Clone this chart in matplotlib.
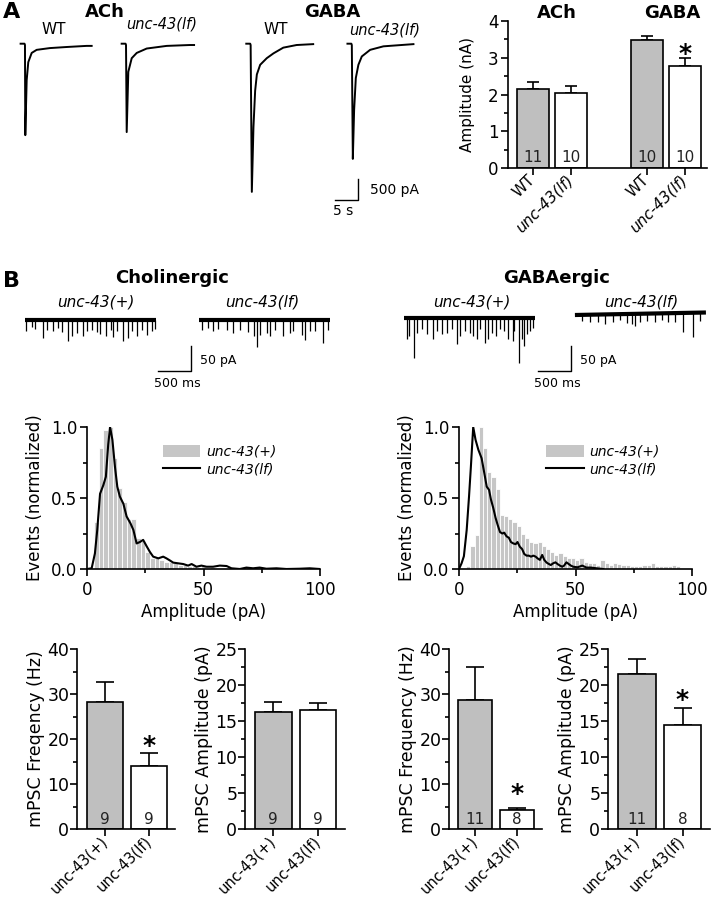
import matplotlib.pyplot as plt
from matplotlib.patches import Patch
from matplotlib.lines import Line2D
import numpy as np

plt.rcParams['font.family'] = ['DejaVu Sans']
plt.rcParams['axes.linewidth'] = 1.2

# ---------------- data ----------------
# A: evoked currents (time in s from stimulus, current in nA)
ach_wt_t = [-0.95, -0.1, 0.0, 0.07, 0.37, 0.72, 1.46, 2.54, 5.4, 9.1, 13.4, 14.5]
ach_wt_i = [0.03, 0.03, 0.0, -2.05, -0.80, -0.39, -0.18, -0.11, -0.07, -0.045, -0.02, -0.02]
ach_lf_t = [-0.95, -0.1, 0.0, 0.15, 0.5, 1.24, 2.33, 4.5, 8.85, 13.9, 14.8]
ach_lf_i = [0.03, 0.03, 0.0, -1.98, -0.61, -0.30, -0.18, -0.08, -0.02, 0.0, 0.0]
gaba_wt_t = [-0.95, -0.1, 0.0, 0.26, 0.61, 0.98, 1.35, 2.07, 3.5, 4.96, 7.1, 10.0, 13.6]
gaba_wt_i = [0.03, 0.03, 0.0, -3.34, -1.87, -1.04, -0.67, -0.45, -0.30, -0.19, -0.06, 0.0, 0.02]
gaba_lf_t = [-0.95, -0.1, 0.0, 0.22, 0.5, 0.87, 1.43, 2.17, 3.98, 6.87, 13.4]
gaba_lf_i = [0.03, 0.03, 0.0, -2.59, -1.48, -0.75, -0.45, -0.26, -0.11, -0.03, 0.02]

# A: evoked amplitude summary
evoked_labels = ['WT', 'unc-43(lf)', 'WT', 'unc-43(lf)']
evoked_mean = [2.15, 2.05, 3.48, 2.77]
evoked_sem = [0.18, 0.17, 0.12, 0.23]
evoked_n = [11, 10, 10, 10]

# B: mPSC events (time in ms from trace start, amplitude in pA)
ach_wt_ev_t = [15, 101, 151, 268, 328, 429, 505, 556, 656, 707, 793, 884, 944, 1010,
               1086, 1136, 1227, 1298, 1338, 1399, 1490, 1565, 1616, 1702, 1768,
               1843, 1919, 1970]
ach_wt_ev_a = [23, 15, 19, 37, 20, 23, 17, 25, 43, 33, 27, 32, 23, 20,
               25, 28, 33, 20, 35, 23, 43, 37, 23, 33, 20, 30, 23, 19]
ach_lf_ev_t = [40, 141, 217, 293, 419, 520, 621, 747, 833, 874, 924, 1025, 1076,
               1151, 1278, 1379, 1429, 1555, 1606, 1682, 1757, 1874, 1959]
ach_lf_ev_a = [20, 17, 23, 19, 20, 27, 21, 25, 33, 55, 30, 27, 33,
               20, 33, 27, 23, 30, 40, 23, 23, 47, 20]
gaba_wt_ev_t = [40, 81, 157, 192, 268, 343, 444, 505, 571, 646, 722, 798, 848, 924,
                1000, 1050, 1101, 1151, 1227, 1278, 1328, 1394, 1454, 1515, 1581,
                1646, 1667, 1747, 1783, 1818, 1858, 1909, 1949]
gaba_wt_ev_a = [43, 37, 80, 30, 23, 33, 43, 27, 33, 30, 23, 53, 37, 27,
                30, 37, 43, 23, 50, 43, 30, 37, 23, 27, 43, 47, 27, 90, 43, 57,
                33, 27, 20]
gaba_lf_ev_t = [101, 227, 353, 455, 581, 682, 783, 859, 909, 985, 1086, 1212,
                1313, 1414, 1515, 1641, 1793, 1894]
gaba_lf_ev_a = [12, 15, 14, 19, 16, 12, 17, 21, 24, 16, 15, 17, 14, 18, 17, 39, 49, 16]

# B: amplitude histograms (normalized)
ach_hist_start, ach_hist_bin = 4.0, 2.0
ach_hist = [0.33, 0.85, 0.98, 1.0, 0.78, 0.57, 0.47, 0.35, 0.35, 0.22, 0.2, 0.12, 0.08,
            0.08, 0.06, 0.05, 0.05, 0.04, 0.03, 0.03, 0.02, 0.02, 0.015, 0.02, 0.01,
            0.015, 0.01, 0.01, 0.008, 0.005, 0.005, 0.01, 0.005, 0.008, 0.005, 0.01,
            0.005, 0.005, 0.005, 0.008, 0.005, 0.005, 0.005, 0.005, 0.005, 0.005, 0.008]
ach_lf_x = [0, 2.0, 3.4, 4.4, 5.6, 7.0, 8.1, 9.1, 9.9, 10.9, 12.0, 13.0, 14.1, 15.6,
            17.0, 18.7, 19.9, 21.3, 22.7, 24.1, 25.6, 27.0, 28.4, 30.6, 32.7, 34.1,
            35.6, 37.0, 39.1, 41.3, 43.4, 44.9, 47.0, 49.1, 51.3, 54.1, 57.0, 59.9,
            62.0, 65.6, 68.4, 71.3, 74.1, 77.0, 81.3, 85.6, 91.3, 95.6, 99.9]
ach_lf_y = [0, 0.005, 0.11, 0.275, 0.53, 0.59, 0.65, 0.875, 1.0, 0.91, 0.72, 0.58, 0.51,
            0.46, 0.37, 0.32, 0.275, 0.18, 0.19, 0.205, 0.16, 0.12, 0.087, 0.075, 0.087,
            0.075, 0.06, 0.045, 0.04, 0.035, 0.024, 0.035, 0.016, 0.024, 0.016, 0.016,
            0.024, 0.021, 0.005, 0, 0.01, 0.005, 0.01, 0.002, 0.005, 0, 0.002, 0.005, 0]
gaba_hist_start, gaba_hist_bin = 4.0, 1.8
gaba_hist = [0.02, 0.16, 0.24, 1.0, 0.85, 0.68, 0.65, 0.56, 0.38, 0.37, 0.35, 0.33, 0.30,
             0.25, 0.22, 0.19, 0.18, 0.19, 0.16, 0.14, 0.12, 0.10, 0.11, 0.09, 0.08,
             0.08, 0.06, 0.08, 0.05, 0.04, 0.04, 0.03, 0.06, 0.04, 0.03, 0.04, 0.035,
             0.03, 0.03, 0.02, 0.02, 0.02, 0.03, 0.03, 0.04, 0.02, 0.02, 0.02, 0.02,
             0.03, 0.02]
gaba_lf_x = [0, 1.1, 2.1, 3.3, 4.3, 5.1, 6.1, 7.1, 8.3, 9.7, 10.7, 11.9, 12.9, 13.7,
             14.7, 15.7, 16.6, 17.6, 18.6, 19.4, 20.4, 21.4, 22.3, 23.3, 24.3, 25.1,
             26.1, 27.1, 28.0, 29.0, 30.0, 30.9, 31.9, 32.9, 33.7, 34.7, 35.7, 36.6,
             37.6, 38.6, 39.4, 40.4, 41.4, 42.3, 43.3, 44.3, 45.1, 46.1, 47.1, 48.0,
             49.0, 50.9, 52.9, 54.7, 56.6, 59.0, 61.9]
gaba_lf_y = [0, 0.04, 0.09, 0.275, 0.51, 0.72, 1.0, 0.91, 0.84, 0.78, 0.69, 0.58, 0.557,
             0.49, 0.43, 0.36, 0.31, 0.26, 0.25, 0.256, 0.23, 0.22, 0.19, 0.18, 0.175,
             0.19, 0.157, 0.14, 0.106, 0.094, 0.094, 0.087, 0.094, 0.087, 0.075, 0.064,
             0.099, 0.064, 0.045, 0.035, 0.028, 0.04, 0.047, 0.035, 0.024, 0.016, 0.024,
             0.047, 0.035, 0.024, 0.016, 0.012, 0.024, 0.01, 0.01, 0.005, 0]

# B: mPSC summaries
mpsc_labels = ['unc-43(+)', 'unc-43(lf)']
ach_freq_mean, ach_freq_sem, ach_n = [28.2, 14.1], [4.4, 2.7], [9, 9]
ach_amp_mean, ach_amp_sem = [16.3, 16.5], [1.35, 1.0]
gaba_freq_mean, gaba_freq_sem, gaba_n = [28.6, 4.2], [7.4, 0.5], [11, 8]
gaba_amp_mean, gaba_amp_sem = [21.5, 14.5], [2.1, 2.3]

GRAY = '#bfbfbf'
W, H = 712, 900
fig = plt.figure(figsize=(W / 100, H / 100), dpi=100)


def box(l, t, r, b):
    return fig.add_axes([l / W, 1 - b / H, (r - l) / W, (b - t) / H])


def ftext(x, y, s, **kw):
    kw.setdefault('ha', 'center')
    kw.setdefault('va', 'center')
    fig.text(x / W, 1 - y / H, s, **kw)


def style(ax):
    for sp in ['top', 'right']:
        ax.spines[sp].set_visible(False)
    ax.tick_params(which='major', direction='out', length=5, width=1.2)
    ax.tick_params(which='minor', direction='out', length=3, width=1.2)


def bars(ax, pos, mean, sem, n, fills, width, capsize):
    ax.errorbar(pos, mean, yerr=[[0] * len(mean), sem], fmt='none', ecolor='black',
                elinewidth=1.2, capsize=capsize, capthick=1.2, zorder=1)
    ax.bar(pos, mean, width=width, color=fills, edgecolor='black', linewidth=1.2, zorder=2)
    for p, k in zip(pos, n):
        ax.annotate(str(k), (p, 0), xytext=(0, 10), textcoords='offset pixels',
                    ha='center', va='center', fontsize=11, color='#222222', zorder=3)


def star(ax, x, y):
    ax.annotate('*', (x, y), xytext=(0, -9.5), textcoords='offset points',
                ha='center', va='baseline', fontsize=18, fontweight='bold')


# ---------------- panel A traces ----------------
axA = box(0, 40, 430, 215)
axA.set_xlim(0, 93.5)
axA.set_ylim(-3.98, 0)
axA.axis('off')
baseA = -0.114
for t, i, t0 in [(ach_wt_t, ach_wt_i, 5.43), (ach_lf_t, ach_lf_i, 27.4),
                 (gaba_wt_t, gaba_wt_i, 54.5), (gaba_lf_t, gaba_lf_i, 76.5)]:
    axA.plot(np.array(t) + t0, np.array(i) + baseA, color='black', lw=1.4)
axA.plot([72.8, 77.8, 77.8], [-3.65, -3.65, -3.15], color='black', lw=1.0)
axA.text(80.5, -3.42, '500 pA', fontsize=10, va='center')
axA.text(74.6, -3.89, '5 s', fontsize=10, ha='center', va='center')

ftext(3, 18.5, 'A', fontsize=16, fontweight='bold', ha='left', va='baseline')
ftext(105, 12, 'ACh', fontsize=13, fontweight='bold')
ftext(54, 30, 'WT', fontsize=11)
ftext(162, 24, 'unc-43(lf)', fontsize=10.5, style='italic')
ftext(332, 12, 'GABA', fontsize=13, fontweight='bold')
ftext(276, 30, 'WT', fontsize=11)
ftext(385, 30, 'unc-43(lf)', fontsize=10.5, style='italic')

# ---------------- panel A bar chart ----------------
axE = box(508, 21, 707, 168)
style(axE)
posE = [0, 1, 3, 4]
bars(axE, posE, evoked_mean, evoked_sem, evoked_n, [GRAY, 'white', GRAY, 'white'], 0.82, 4)
star(axE, 4, 3.27)
axE.set_xlim(-0.66, 4.58)
axE.set_ylim(0, 4)
axE.set_yticks([0, 1, 2, 3, 4])
axE.set_yticks(np.arange(0.5, 4, 1), minor=True)
axE.tick_params(axis='y', labelsize=12, pad=2)
axE.tick_params(axis='x', pad=2)
axE.set_xticks(posE)
axE.set_xticklabels(evoked_labels, rotation=45, ha='right', va='center',
                    rotation_mode='anchor', fontsize=11)
for lab in axE.get_xticklabels():
    if lab.get_text().startswith('unc'):
        lab.set_style('italic')
axE.set_ylabel('Amplitude (nA)', fontsize=11, labelpad=9)
ftext(557, 13, 'ACh', fontsize=13, fontweight='bold')
ftext(672, 13, 'GABA', fontsize=13, fontweight='bold')

# ---------------- panel B traces ----------------
axB = box(0, 305, 712, 392)
axB.set_xlim(0, 10788)
axB.set_ylim(-174, 0)
axB.axis('off')
for ev_t, ev_a, t0, b0, b1 in [(ach_wt_ev_t, ach_wt_ev_a, 379, -30, -30),
                                (ach_lf_ev_t, ach_lf_ev_a, 3015, -30, -30),
                                (gaba_wt_ev_t, gaba_wt_ev_a, 6121, -26, -26),
                                (gaba_lf_ev_t, gaba_lf_ev_a, 8711, -20, -15)]:
    axB.plot([t0, t0 + 1985], [b0, b1], color='black', lw=3.0, solid_capstyle='butt')
    et = np.array(ev_t) + t0
    eb = b0 + (b1 - b0) * np.array(ev_t) / 1985
    axB.vlines(et, eb, eb - np.array(ev_a), color='black', lw=0.9)
for x0 in [2394, 8151]:
    axB.plot([x0, x0 + 500, x0 + 500], [-133, -133, -83], color='black', lw=1.0)
    axB.text(x0 + 636, -111, '50 pA', fontsize=9, va='center')
    axB.text(x0 + 288, -157, '500 ms', fontsize=9, ha='center', va='center')

ftext(3, 287, 'B', fontsize=16, fontweight='bold', ha='left', va='baseline')
ftext(172, 278, 'Cholinergic', fontsize=13, fontweight='bold')
ftext(557, 278, 'GABAergic', fontsize=13, fontweight='bold')
ftext(96, 302, 'unc-43(+)', fontsize=11, style='italic')
ftext(262, 302, 'unc-43(lf)', fontsize=11, style='italic')
ftext(472, 302, 'unc-43(+)', fontsize=11, style='italic')
ftext(641, 302, 'unc-43(lf)', fontsize=11, style='italic')

# ---------------- panel B histograms ----------------
for l, start, bw, hist, lx, ly, legx in [
        (87, ach_hist_start, ach_hist_bin, ach_hist, ach_lf_x, ach_lf_y, 0.325),
        (459, gaba_hist_start, gaba_hist_bin, gaba_hist, gaba_lf_x, gaba_lf_y, 0.375)]:
    ax = box(l, 427, l + 233, 569)
    style(ax)
    centers = start + bw * np.arange(len(hist))
    ax.bar(centers, hist, width=bw, color='#c6c6c6', edgecolor='white', linewidth=0.6)
    ax.plot(lx, ly, color='black', lw=1.5)
    ax.set_xlim(0, 100)
    ax.set_ylim(0, 1.0)
    ax.set_xticks([0, 50, 100])
    ax.set_xticks([25, 75], minor=True)
    ax.set_yticks([0, 0.5, 1.0])
    ax.set_yticks([0.25, 0.75], minor=True)
    ax.set_yticklabels(['0.0', '0.5', '1.0'])
    ax.tick_params(labelsize=12)
    ax.tick_params(axis='y', pad=2)
    ax.set_ylabel('Events (normalized)', fontsize=12, labelpad=5)
    ax.set_xlabel('Amplitude (pA)', fontsize=12, labelpad=3)
    handles = [Patch(facecolor='#c6c6c6', edgecolor='none'), Line2D([], [], color='black', lw=1.5)]
    ax.legend(handles, ['unc-43(+)', 'unc-43(lf)'], loc='upper left',
              bbox_to_anchor=(legx, 0.875), frameon=False,
              prop={'style': 'italic', 'size': 10}, handlelength=2.7,
              handleheight=1.0, handletextpad=0.4, labelspacing=0.3,
              borderpad=0, borderaxespad=0)

# ---------------- panel B summary bars ----------------
for l, r, mean, sem, n, yl, top, major, minor, sx, sy in [
        (77, 175, ach_freq_mean, ach_freq_sem, ach_n, 'mPSC Freqency (Hz)', 40, 10, 5, 1, 19.8),
        (245, 345, ach_amp_mean, ach_amp_sem, ach_n, 'mPSC Amplitude (pA)', 25, 5, 2.5, None, None),
        (449, 542, gaba_freq_mean, gaba_freq_sem, gaba_n, 'mPSC Frequency (Hz)', 40, 10, 5, 1, 9.1),
        (608, 710, gaba_amp_mean, gaba_amp_sem, gaba_n, 'mPSC Amplitude (pA)', 25, 5, 2.5, 1, 18.8)]:
    ax = box(l, 649, r, 829)
    style(ax)
    bars(ax, [0, 1], mean, sem, n, [GRAY, 'white'], 0.82, 6.5)
    if sx is not None:
        star(ax, sx, sy)
    ax.set_xlim(-0.63, 1.6)
    ax.set_ylim(0, top)
    ax.set_yticks(np.arange(0, top + 0.1, major))
    ax.set_yticks(np.arange(minor, top, major), minor=True)
    ax.tick_params(axis='y', labelsize=12.5, pad=0.5)
    ax.tick_params(axis='x', pad=2)
    ax.set_xticks([0, 1])
    ax.set_xticklabels(mpsc_labels, rotation=45, ha='right', va='center',
                       rotation_mode='anchor', fontsize=10.5)
    ax.set_ylabel(yl, fontsize=12.5, labelpad=2)

fig.savefig('out.png', dpi=100, facecolor='white')
